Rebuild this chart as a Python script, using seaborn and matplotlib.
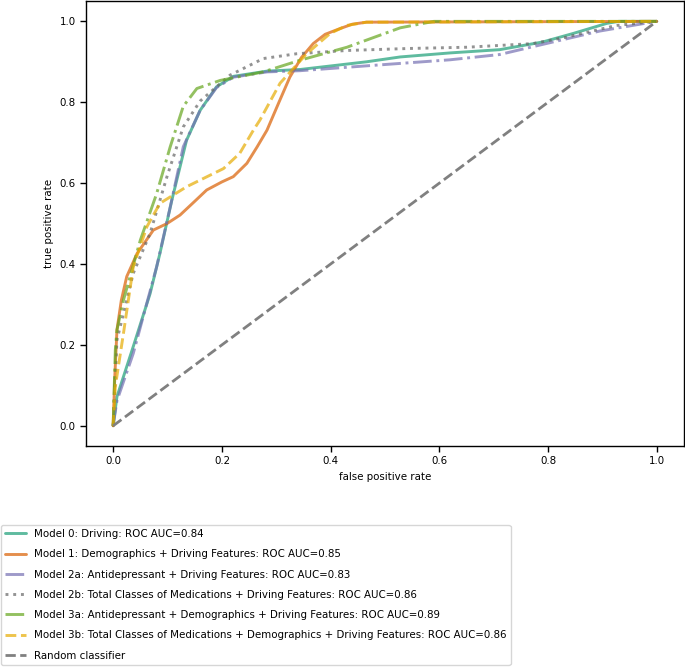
import numpy as np
import pandas as pd
import matplotlib
matplotlib.use("Agg")
import matplotlib.pyplot as plt
import seaborn as sns

# ROC curves (false positive rate, true positive rate)
m0_fpr = [0.0, 0.007, 0.037, 0.068, 0.086, 0.108, 0.135, 0.16, 0.19, 0.221, 0.283, 0.344,
          0.466, 0.528, 0.62, 0.711, 0.79, 0.846, 0.908, 0.93, 1.0]
m0_tpr = [0.0, 0.072, 0.196, 0.327, 0.426, 0.558, 0.706, 0.78, 0.838, 0.864, 0.877, 0.881,
          0.9, 0.912, 0.922, 0.93, 0.949, 0.97, 0.995, 1.0, 1.0]

m1_fpr = [0.0, 0.003, 0.007, 0.015, 0.025, 0.044, 0.074, 0.099, 0.123, 0.15, 0.172, 0.2,
          0.221, 0.246, 0.265, 0.283, 0.305, 0.325, 0.346, 0.368, 0.39, 0.417, 0.44, 0.466, 1.0]
m1_tpr = [0.0, 0.12, 0.237, 0.31, 0.369, 0.426, 0.484, 0.5, 0.521, 0.555, 0.583, 0.603,
          0.616, 0.649, 0.69, 0.731, 0.8, 0.862, 0.91, 0.945, 0.968, 0.982, 0.993, 0.998, 1.0]

m2a_fpr = [0.0, 0.007, 0.037, 0.08, 0.105, 0.129, 0.16, 0.19, 0.221, 0.283, 0.344,
           0.466, 0.528, 0.62, 0.711, 0.79, 0.895, 0.956, 1.0]
m2a_tpr = [0.0, 0.062, 0.179, 0.393, 0.541, 0.69, 0.78, 0.836, 0.862, 0.875, 0.878,
           0.89, 0.896, 0.905, 0.918, 0.943, 0.976, 0.99, 1.0]

m2b_fpr = [0.0, 0.007, 0.037, 0.068, 0.099, 0.129, 0.16, 0.215, 0.276, 0.338, 0.43,
           0.546, 0.65, 0.772, 0.834, 0.926, 1.0]
m2b_tpr = [0.0, 0.212, 0.377, 0.476, 0.616, 0.739, 0.803, 0.867, 0.908, 0.92, 0.928,
           0.933, 0.936, 0.945, 0.961, 0.99, 1.0]

m3a_fpr = [0.0, 0.004, 0.007, 0.019, 0.05, 0.08, 0.105, 0.129, 0.154, 0.197, 0.276,
           0.344, 0.43, 0.528, 0.59, 1.0]
m3a_tpr = [0.0, 0.188, 0.237, 0.311, 0.459, 0.574, 0.69, 0.79, 0.834, 0.854, 0.875,
           0.904, 0.936, 0.984, 1.0, 1.0]

m3b_fpr = [0.0, 0.004, 0.019, 0.037, 0.062, 0.086, 0.135, 0.203, 0.233, 0.258, 0.27,
           0.307, 0.356, 0.399, 0.43, 0.466, 1.0]
m3b_tpr = [0.0, 0.097, 0.229, 0.393, 0.492, 0.55, 0.591, 0.636, 0.674, 0.731, 0.756,
           0.847, 0.92, 0.97, 0.99, 0.998, 1.0]

labels = [
    "Model 0: Driving: ROC AUC=0.84",
    "Model 1: Demographics + Driving Features: ROC AUC=0.85",
    "Model 2a: Antidepressant + Driving Features: ROC AUC=0.83",
    "Model 2b: Total Classes of Medications + Driving Features: ROC AUC=0.86",
    "Model 3a: Antidepressant + Demographics + Driving Features: ROC AUC=0.89",
    "Model 3b: Total Classes of Medications + Demographics + Driving Features: ROC AUC=0.86",
]
curves = [(m0_fpr, m0_tpr), (m1_fpr, m1_tpr), (m2a_fpr, m2a_tpr),
          (m2b_fpr, m2b_tpr), (m3a_fpr, m3a_tpr), (m3b_fpr, m3b_tpr)]

sns.set_style("ticks")
plt.rcParams["font.family"] = ["DejaVu Sans"]
plt.rcParams["font.size"] = 7.4
for key in ["text.color", "axes.labelcolor", "xtick.color", "ytick.color", "axes.edgecolor"]:
    plt.rcParams[key] = "black"

dark2 = sns.color_palette("Dark2", 8)
colors = [dark2[0], dark2[1], dark2[2], dark2[7], dark2[4], dark2[5]]
styles = ["-", "-", "-.", ":", "-.", "--"]

fig = plt.figure(figsize=(6.85, 6.69), dpi=100)
ax = fig.add_axes([0.1255, 0.3333, 0.873, 0.665])

for (fpr, tpr), lab, col, ls in zip(curves, labels, colors, styles):
    df = pd.DataFrame({"fpr": fpr, "tpr": tpr})
    sns.lineplot(data=df, x="fpr", y="tpr", ax=ax, color=col, linestyle=ls,
                 linewidth=2.1, alpha=0.7, label=lab, sort=False, estimator=None)

diag = pd.DataFrame({"fpr": [0, 1], "tpr": [0, 1]})
sns.lineplot(data=diag, x="fpr", y="tpr", ax=ax, color="gray", linestyle="--",
             linewidth=2, label="Random classifier", sort=False, estimator=None)

ax.set_xlim(-0.05, 1.05)
ax.set_ylim(-0.05, 1.05)
ax.set_xticks([0.0, 0.2, 0.4, 0.6, 0.8, 1.0])
ax.set_yticks([0.0, 0.2, 0.4, 0.6, 0.8, 1.0])
ax.set_xlabel("false positive rate", fontsize=7.4)
ax.set_ylabel("true positive rate", fontsize=7.4)
ax.tick_params(labelsize=7.4, width=1, length=4)
for s in ax.spines.values():
    s.set_linewidth(1)

handles, labs = ax.get_legend_handles_labels()
ax.get_legend().remove()
fig.legend(handles, labs, loc="upper left", bbox_to_anchor=(0.0, 0.217),
           fontsize=7.4, labelspacing=1.0, frameon=True, borderaxespad=0.1)

fig.savefig("out.png", dpi=100)
